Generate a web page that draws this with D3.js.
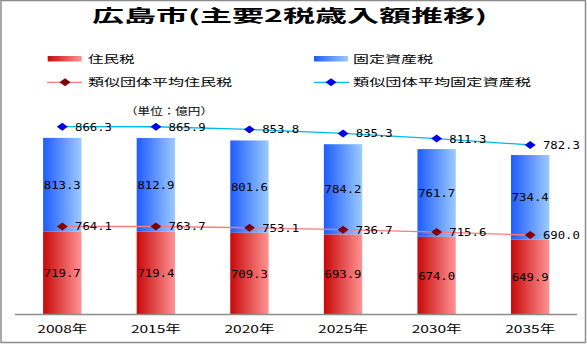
<!DOCTYPE html>
<html>
<head>
<meta charset="utf-8">
<script src="https://cdn.jsdelivr.net/npm/d3@7"></script>
<style>
  html, body { margin: 0; padding: 0; background: #fff; }
  svg { display: block; }
</style>
</head>
<body>
<svg id="chart" width="587" height="344"></svg>
<script>
// Hiroshima city: two major taxes (unit: 100 million yen)
const years = ["2008年", "2015年", "2020年", "2025年", "2030年", "2035年"];
const residentTax = [719.7, 719.4, 709.3, 693.9, 674.0, 649.9];
const propertyTax = [813.3, 812.9, 801.6, 784.2, 761.7, 734.4];
const avgResidentTax = [764.1, 763.7, 753.1, 736.7, 715.6, 690.0];
const avgPropertyTax = [866.3, 865.9, 853.8, 835.3, 811.3, 782.3];

const titleText = "広島市(主要2税歳入額推移)";
const unitText = "（単位：億円）";
const legendItems = ["住民税", "固定資産税", "類似団体平均住民税", "類似団体平均固定資産税"];

const svg = d3.select("#chart");
const jp = "'Noto Sans CJK JP', 'Noto Sans', sans-serif";
const num = "'DejaVu Sans Mono', 'Liberation Mono', monospace";

// gradients for the bars
const defs = svg.append("defs");
function grad(id, c0, c1) {
  const g = defs.append("linearGradient").attr("id", id)
    .attr("x1", "0%").attr("x2", "100%").attr("y1", "0%").attr("y2", "0%");
  g.append("stop").attr("offset", "0%").attr("stop-color", c0);
  g.append("stop").attr("offset", "100%").attr("stop-color", c1);
}
grad("gRed", "#C80808", "#FF9494");
grad("gBlue", "#1E5CFF", "#9CCBFF");

// outer frame
svg.append("rect").attr("x", 1).attr("y", 0.5).attr("width", 584.5).attr("height", 342)
  .attr("fill", "none").attr("stroke", "#8c8c8c").attr("stroke-width", 1.5);

// text helper: width fitted horizontally
function label(x, y, str, size, width, opts = {}) {
  return svg.append("text")
    .attr("x", x).attr("y", y).attr("dy", "0.36em")
    .attr("font-family", opts.family || jp)
    .attr("font-size", size)
    .attr("font-weight", opts.weight || "normal")
    .attr("text-anchor", opts.anchor || "start")
    .attr("textLength", width)
    .attr("lengthAdjust", "spacingAndGlyphs")
    .attr("fill", opts.fill || "#000")
    .text(str);
}

// title
label(92, 15.5, titleText, 17, 395, { weight: "bold" });

// scales
const x = d3.scaleBand().domain(years).range([15.5, 577]).paddingInner(0.59).paddingOuter(0.295);
const y = d3.scaleLinear().domain([0, 2000]).range([314.5, 84.1]);

// stacked bars
const bw = x.bandwidth();
const gBars = svg.append("g");
years.forEach((yr, i) => {
  const r = residentTax[i], p = propertyTax[i];
  gBars.append("rect").attr("x", x(yr)).attr("width", bw)
    .attr("y", y(r + p)).attr("height", y(r) - y(r + p)).attr("fill", "url(#gBlue)");
  gBars.append("rect").attr("x", x(yr)).attr("width", bw)
    .attr("y", y(r)).attr("height", y(0) - y(r)).attr("fill", "url(#gRed)");
});

// x axis
svg.append("line").attr("x1", 15).attr("x2", 577).attr("y1", 314.5).attr("y2", 314.5)
  .attr("stroke", "#8c8c8c").attr("stroke-width", 1.3);
years.forEach(yr => label(x(yr) + bw / 2, 329, yr, 11, 50, { anchor: "middle" }));

// bar value labels
years.forEach((yr, i) => {
  const r = residentTax[i], p = propertyTax[i];
  const cx = x(yr) + bw / 2;
  label(cx, (y(0) + y(r)) / 2, r.toFixed(1), 11, 37, { anchor: "middle", family: num });
  label(cx, (y(r) + y(r + p)) / 2, p.toFixed(1), 11, 37, { anchor: "middle", family: num });
});

// average lines (stacked)
const diamond = "M-5.5,0L0,-4L5.5,0L0,4Z";
const resPts = years.map((yr, i) => [x(yr) + bw / 2, y(avgResidentTax[i])]);
const propPts = years.map((yr, i) => [x(yr) + bw / 2, y(avgResidentTax[i] + avgPropertyTax[i])]);
const line = d3.line();
svg.append("path").attr("d", line(resPts)).attr("fill", "none")
  .attr("stroke", "#FF7B7B").attr("stroke-width", 1.3);
svg.append("path").attr("d", line(propPts)).attr("fill", "none")
  .attr("stroke", "#00B8F0").attr("stroke-width", 1.3);
resPts.forEach(p => svg.append("path").attr("d", diamond)
  .attr("transform", `translate(${p[0]},${p[1]})`).attr("fill", "#800000"));
propPts.forEach(p => svg.append("path").attr("d", diamond)
  .attr("transform", `translate(${p[0]},${p[1]})`).attr("fill", "#0000E6"));
resPts.forEach((p, i) => label(p[0] + 12.7, p[1], avgResidentTax[i].toFixed(1), 11, 37, { family: num }));
propPts.forEach((p, i) => label(p[0] + 12.7, p[1], avgPropertyTax[i].toFixed(1), 11, 37, { family: num }));

// legend
svg.append("rect").attr("x", 47.7).attr("y", 56).attr("width", 34).attr("height", 5.5).attr("fill", "url(#gRed)");
svg.append("rect").attr("x", 314).attr("y", 56).attr("width", 34).attr("height", 5.5).attr("fill", "url(#gBlue)");
label(88, 59.5, legendItems[0], 10.5, 46.6);
label(353, 59.5, legendItems[1], 10.5, 80);
svg.append("line").attr("x1", 47).attr("x2", 82).attr("y1", 82.3).attr("y2", 82.3)
  .attr("stroke", "#FF7B7B").attr("stroke-width", 1.3);
svg.append("path").attr("d", diamond).attr("transform", "translate(65,82.3)").attr("fill", "#800000");
svg.append("line").attr("x1", 314).attr("x2", 349).attr("y1", 82.3).attr("y2", 82.3)
  .attr("stroke", "#00B8F0").attr("stroke-width", 1.3);
svg.append("path").attr("d", diamond).attr("transform", "translate(331,82.3)").attr("fill", "#0000E6");
label(88, 82.3, legendItems[2], 10.5, 144);
label(353, 82.3, legendItems[3], 10.5, 178);

// unit note
label(125, 111.5, unitText, 10, 88);
</script>
</body>
</html>
